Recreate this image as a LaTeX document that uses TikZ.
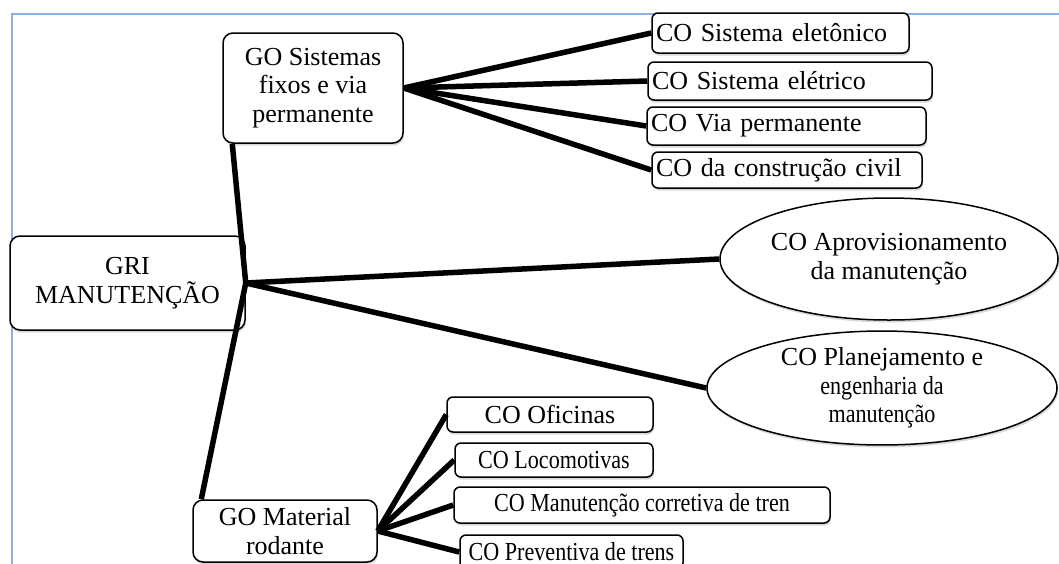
\documentclass[tikz,border=0pt]{standalone}
\usepackage{fontspec}
\setmainfont{Liberation Serif}
\usepackage{graphicx}
\usepackage{tikz}
\usetikzlibrary{shapes.geometric}
\usetikzlibrary{shadows}
\definecolor{frameblue}{rgb}{0.55,0.70,0.89}
\newcommand{\narrowtxt}[1]{\scalebox{0.85}[1]{#1}}

\tikzset{
  softshadow/.style={drop shadow={shadow xshift=1pt, shadow yshift=-2.5pt, opacity=0.3}},
  orgbox/.style={draw=black, line width=1.5pt, rounded corners=10pt, fill=white, align=center, inner sep=2pt, softshadow},
  cobox/.style={draw=black, line width=1.5pt, rounded corners=6pt, fill=white, align=center, inner sep=2pt, softshadow},
  cotop/.style={cobox, align=left, inner xsep=4pt},
  coell/.style={ellipse, draw=black, line width=1.5pt, fill=white, align=center, inner sep=0pt, softshadow},
  link/.style={line width=5.5pt}
}

\begin{document}
\begin{tikzpicture}[x=1pt, y=-1pt, font=\fontsize{26}{28.5}\selectfont]
    \useasboundingbox (0,0) rectangle (1059,563);

    % draw frame
    \draw[frameblue, line width=1.5pt] (1075,14) -- (12,14) -- (12,580);

    % draw main units
    \node[orgbox, minimum width=235pt, minimum height=94pt] (gri) at (127.5,283) {GRI\\MANUTENÇÃO};
    \node[orgbox, minimum width=180pt, minimum height=110pt] (gosf) at (313,88) {GO Sistemas\\fixos e via\\permanente};
    \node[orgbox, minimum width=184pt, minimum height=62pt] (gomr) at (285,531) {GO Material\\rodante};

    % draw upper coordinations
    \node[cotop, text width=249pt, minimum height=40pt] (eletr) at (780.5,33) {CO Sistema eletônico};
    \node[cotop, text width=276pt, minimum height=38pt] (eletc) at (790,81) {CO Sistema elétrico};
    \node[cotop, text width=271pt, minimum height=38pt] (viap) at (786.5,126) {CO Via permanente};
    \node[cotop, text width=262pt, minimum height=36pt] (civil) at (787,170) {CO da construção civil};

    % draw ellipses
    \node[coell, minimum width=338pt, minimum height=122pt] (aprov) at (889,259) {CO Aprovisionamento\\da manutenção};
    \node[coell, minimum width=350pt, minimum height=110pt] (plan) at (882,388) {CO Planejamento e\\\narrowtxt{engenharia da}\\\narrowtxt{manutenção}};

    % draw lower coordinations
    \node[cobox, minimum width=206pt, minimum height=35pt] (ofic) at (550,414.5) {CO Oficinas};
    \node[cobox, minimum width=198pt, minimum height=34pt] (loco) at (554,460) {\narrowtxt{CO Locomotivas}};
    \node[cobox, minimum width=376pt, minimum height=36pt] (corr) at (642,505) {\narrowtxt{CO Manutenção corretiva de tren}};
    \node[cobox, minimum width=223pt, minimum height=34pt] (prev) at (571.5,552) {\narrowtxt{CO Preventiva de trens}};

    % draw links
    \draw[link] (gri.east) -- ([xshift=10pt]gosf.south west);
    \draw[link] (gri.east) -- ([xshift=9pt]gomr.north west);
    \draw[link] (gri.east) -- (aprov.west);
    \draw[link] (gri.east) -- (plan.west);
    \foreach \co in {eletr,eletc,viap,civil}
        \draw[link] (gosf.east) -- (\co.west);
    \foreach \co in {ofic,loco,corr,prev}
        \draw[link] (gomr.east) -- (\co.west);
\end{tikzpicture}
\end{document}
